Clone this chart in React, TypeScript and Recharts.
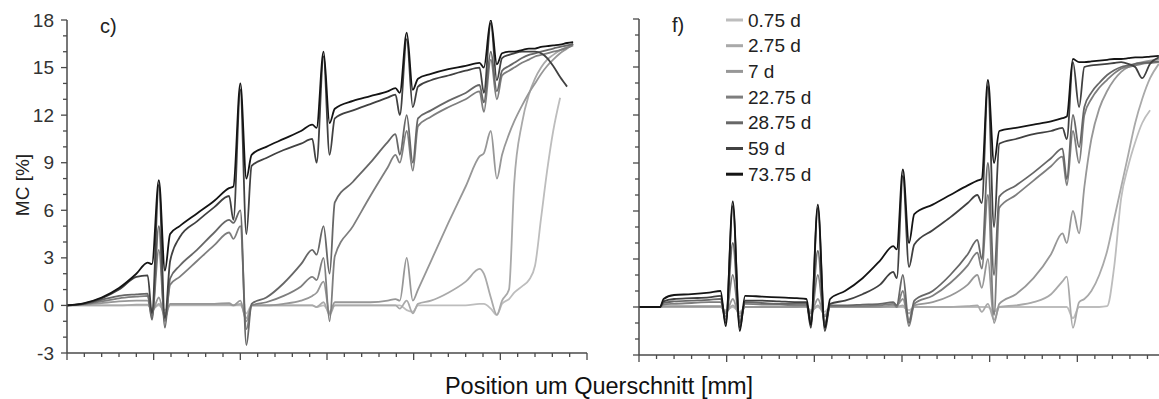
import React from "react";
import { LineChart, Line, XAxis, YAxis } from "recharts";

const seriesNames = ["0.75 d", "2.75 d", "7 d", "22.75 d", "28.75 d", "59 d", "73.75 d"];
const seriesColors = ["#bdbdbd", "#a9a9a9", "#979797", "#7e7e7e", "#676767", "#414141", "#141414"];

const xTicks = [0, 2, 4, 6, 8, 10, 12, 14, 16, 18, 20, 22, 24, 26, 28, 30, 32, 34, 36, 38, 40, 42, 44, 46, 48, 50, 52, 54, 56, 58, 60];
const yTicks = [-3, -2, -1, 0, 1, 2, 3, 4, 5, 6, 7, 8, 9, 10, 11, 12, 13, 14, 15, 16, 17, 18];

// panel c) - positions in mm
const cPos = [0, 2, 4, 6, 8, 9.3, 9.8, 10.6, 11.3, 11.9, 13, 15, 17, 18.7, 19.2, 20.0, 20.7, 21.3, 23, 25, 27, 28.3, 28.8, 29.6, 30.3, 30.9, 33, 35, 37, 37.9, 38.4, 39.2, 39.9, 40.5, 42, 44, 46, 47.6, 48.1, 48.9, 49.6, 50.2, 51, 51.6, 52.5, 53.3, 54, 54.7, 55.4, 56.1, 56.9, 57.7, 58.4];
const c075 = [0, 0, 0, 0, 0, 0, -0.2, 0, -0.3, 0, 0, 0, 0, 0, 0, 0, -0.5, 0, 0, 0, 0, 0, -0.1, 0, -0.4, 0, 0, 0, 0, 0, 0, -0.3, -0.4, 0, 0, 0, 0, 0.1, 0.1, -0.2, -0.6, 0.1, 0.4, 0.8, 1.2, 1.6, 2.5, 5.5, 8.5, 11.0, 13.1, null, null];
const c275 = [0, 0, 0, 0, 0.05, 0.05, -0.3, 0.1, -0.5, 0.05, 0.05, 0.05, 0.05, 0.05, 0, 0.1, -0.8, 0, 0, 0, 0, 0, -0.1, 0.2, -0.6, 0, 0, 0, 0, 0, -0.2, 0.3, -0.5, 0.1, 0.3, 0.8, 1.5, 2.3, 2.0, 0.5, -0.6, 0.3, 1.0, 7.7, 11.5, 13.3, 14.3, 15.0, 15.5, 15.8, 16.1, 16.3, 16.45];
const c7 = [0, 0.05, 0.15, 0.25, 0.3, 0.3, -0.4, 0.5, -0.8, 0.1, 0.1, 0.1, 0.1, 0.15, 0.0, 0.3, -1.0, 0.0, 0.0, 0.1, 0.3, 0.6, 0.8, 1.5, -0.5, 0.2, 0.2, 0.2, 0.3, 0.4, 0.3, 3.0, 0.3, 1.0, 2.8, 5.2, 7.5, 9.4, 9.6, 11.0, 8.0, 9.5, 10.8, 11.6, 12.6, 13.4, 14.0, 14.6, 15.1, 15.5, 15.9, 16.2, 16.5];
const c2275 = [0, 0.08, 0.25, 0.45, 0.55, 0.6, -0.7, 3.5, -1.0, 1.3, 1.8, 2.8, 3.8, 4.6, 4.2, 5.0, -1.5, 0.0, 0.2, 0.6, 1.2, 1.8, 1.6, 3.0, -1.0, 3.1, 5.0, 6.9, 8.7, 9.5, 9.0, 11.0, 8.5, 11.3, 11.9, 12.5, 13.0, 13.5, 12.2, 15.5, 13.0, 14.5, 14.8, 15.0, 15.3, 15.5, 15.7, 15.8, 15.9, 16.0, 16.1, 16.25, 16.4];
const c2875 = [0, 0.1, 0.35, 0.6, 0.7, 0.75, -0.9, 5.0, -1.4, 1.7, 2.5, 3.5, 4.6, 5.4, 5.2, 6.0, -2.5, 0.1, 0.5, 1.4, 2.6, 3.5, 3.2, 5.0, 2.0, 6.5, 7.8, 9.0, 10.3, 10.8, 9.5, 12.0, 9.0, 11.8, 12.3, 12.9, 13.4, 13.9, 12.8, 16.0, 13.5, 14.8, 15.1, 15.3, 15.6, 15.8, 15.9, 16.0, 16.1, 16.2, 16.3, 16.4, 16.5];
const c59 = [0, 0.12, 0.45, 1.0, 1.8, 1.9, -0.5, 7.6, -0.8, 2.8, 4.3, 5.3, 6.2, 6.9, 5.4, 13.6, 4.5, 8.8, 9.3, 9.8, 10.2, 10.5, 9.0, 15.7, 9.5, 11.8, 12.3, 12.7, 13.1, 13.3, 12.0, 16.8, 12.5, 13.8, 14.2, 14.5, 14.8, 15.0, 13.4, 17.8, 14.2, 15.6, 15.8, 15.9, 16.0, 16.0, 16.0, 15.9, 15.6, 15.1, 14.4, 13.8, null];
const c7375 = [0, 0.15, 0.5, 1.1, 2.0, 2.7, 2.6, 7.9, 2.2, 4.5, 5.0, 5.8, 6.6, 7.4, 7.5, 14.0, 8.0, 9.5, 10.0, 10.5, 11.0, 11.4, 11.2, 16.0, 11.5, 12.4, 12.9, 13.2, 13.5, 13.7, 13.4, 17.2, 13.6, 14.3, 14.6, 14.9, 15.1, 15.3, 15.0, 18.0, 15.2, 15.9, 16.0, 16.0, 16.1, 16.2, 16.2, 16.3, 16.35, 16.4, 16.45, 16.55, 16.6];

// panel f)
const fPos = [0, 2.4, 2.8, 4, 6, 8, 9.3, 9.9, 10.7, 11.5, 12.1, 14, 16, 18, 19.1, 19.6, 20.4, 21.2, 21.8, 23.5, 25.5, 27.5, 29.0, 29.4, 30.1, 30.8, 31.4, 33.5, 35.5, 37.5, 38.6, 39.1, 39.8, 40.5, 41.1, 43, 45, 47, 48.3, 48.8, 49.5, 50.2, 50.8, 51.6, 52.5, 53.4, 54.2, 55, 55.8, 56.6, 57.4, 58.3, 59.3];
const f075 = [0, 0, 0, 0, 0, 0, 0, -0.2, 0, -0.3, 0, 0, 0, 0, 0, -0.2, 0, -0.3, 0, 0, 0, 0, 0, 0, 0, -0.2, 0, 0, 0, 0, 0, 0, 0, -0.3, 0, 0, 0, 0, 0, 0, -0.7, 0, 0, 0, 0, 0.05, 2.5, 6.8, 8.8, 10.3, 11.5, 12.3, null];
const f275 = [0, 0, 0, 0, 0, 0, 0, -0.3, 0.1, -0.4, 0, 0, 0, 0, 0, -0.3, 0.1, -0.5, 0, 0, 0, 0, 0, 0, 0.1, -0.4, 0, 0, 0, 0.05, 0.1, -0.3, 0.2, -0.8, 0, 0.1, 0.3, 0.8, 1.6, 1.9, -1.3, 0.3, 0.5, 1.0, 2.0, 3.5, 5.5, 7.5, 9.5, 11.5, 13.0, 14.3, 15.2];
const f7 = [0, 0, 0.05, 0.05, 0.05, 0.05, 0.05, -0.4, 0.5, -0.6, 0, 0, 0, 0, 0.05, -0.4, 0.5, -0.6, 0, 0, 0, 0, 0.1, 0.1, 0.5, -0.8, 0.1, 0.3, 0.7, 1.4, 2.0, 1.2, 3.0, -1.0, 0.2, 0.8, 1.8, 3.3, 4.6, 4.0, 6.0, 4.6, 7.5, 10.5, 12.4, 13.5, 14.2, 14.7, 15.0, 15.2, 15.3, 15.4, 15.5];
const f2275 = [0, 0, 0.15, 0.2, 0.25, 0.3, 0.3, -0.6, 2.0, -0.9, 0.2, 0.15, 0.15, 0.1, 0.1, -0.7, 2.0, -1.0, 0.05, 0.05, 0.05, 0.1, 0.2, 0.0, 1.0, -1.2, 0.2, 0.7, 1.5, 2.6, 3.4, 2.4, 7.0, -0.5, 6.2, 7.0, 7.9, 8.8, 9.4, 7.6, 11.0, 9.0, 12.0, 13.0, 13.7, 14.2, 14.6, 14.9, 15.0, 15.1, 15.2, 15.25, 15.3];
const f2875 = [0, 0, 0.25, 0.35, 0.4, 0.45, 0.5, -0.8, 4.0, -1.0, 0.3, 0.25, 0.2, 0.2, 0.2, -0.9, 3.5, -1.2, 0.1, 0.1, 0.15, 0.2, 0.3, 0.1, 2.0, -1.0, 0.4, 1.0, 2.0, 3.3, 4.2, 3.0, 9.0, 2.0, 6.9, 7.6, 8.4, 9.3, 9.9, 8.0, 12.0, 10.0, 12.5, 13.4, 14.0, 14.5, 14.8, 15.0, 15.1, 15.2, 15.25, 15.3, 15.35];
const f59 = [0, 0, 0.35, 0.5, 0.55, 0.6, 0.7, -1.0, 6.3, -1.3, 0.4, 0.4, 0.35, 0.3, 0.3, -1.3, 6.2, -1.5, 0.2, 0.4, 0.8, 1.4, 2.2, 1.8, 8.2, 2.5, 3.9, 4.8, 5.6, 6.5, 7.0, 6.5, 13.8, 5.0, 10.2, 10.5, 10.8, 11.0, 11.2, 10.5, 15.3, 12.5, 15.0, 15.1, 15.15, 15.2, 15.25, 15.3, 15.2, 15.0, 14.3, 15.2, 15.6];
const f7375 = [0, 0, 0.5, 0.75, 0.8, 0.9, 1.0, -1.2, 6.6, -1.5, 0.7, 0.65, 0.6, 0.55, 0.5, -1.1, 6.4, -1.3, 0.5, 1.0, 1.8, 2.9, 3.8, 3.6, 8.6, 4.0, 5.8, 6.4, 7.0, 7.6, 7.9, 8.0, 14.2, 9.0, 11.0, 11.2, 11.4, 11.6, 11.8, 11.9, 15.5, 15.3, 15.3, 15.35, 15.4, 15.45, 15.5, 15.5, 15.55, 15.6, 15.6, 15.65, 15.7];

const AXIS = "#4a4a4a";
const FONT = "Arial, 'Liberation Sans', sans-serif";

function buildRows(pos: number[], series: (number | null)[][]) {
  return pos.map((p, i) => {
    const row: any = { pos: p };
    series.forEach((s, k) => {
      row["s" + k] = s[i];
    });
    return row;
  });
}

const cRows = buildRows(cPos, [c075, c275, c7, c2275, c2875, c59, c7375]);
const fRows = buildRows(fPos, [f075, f275, f7, f2275, f2875, f59, f7375]);

const XTick = (props: any) => {
  const { x, y, payload } = props;
  const major = payload.value % 10 === 0;
  return <line x1={x} x2={x} y1={y} y2={y + (major ? 7 : 4)} stroke={AXIS} strokeWidth={1.3} />;
};

const makeYTick = (showLabels: boolean) => (props: any) => {
  const { x, y, payload } = props;
  const v = payload.value;
  const major = v % 3 === 0;
  return (
    <g>
      <line x1={x - (major ? 6 : 4)} x2={x} y1={y} y2={y} stroke={AXIS} strokeWidth={1.3} />
      {showLabels && major && (
        <text x={x - 13} y={y} textAnchor="end" dominantBaseline="central" fontSize={19} fill="#333" fontFamily={FONT}>
          {v}
        </text>
      )}
    </g>
  );
};

function Panel(p: { rows: any[]; left: number; yWidth: number; mTop: number; mBottom: number; mRight: number; labels: boolean }) {
  return (
    <div style={{ position: "absolute", left: p.left, top: 0 }}>
      <LineChart width={600} height={380} data={p.rows} margin={{ top: p.mTop, right: p.mRight, bottom: p.mBottom, left: 0 }}>
        <XAxis
          dataKey="pos"
          type="number"
          domain={[0, 60]}
          ticks={xTicks}
          interval={0}
          height={20}
          tickSize={0}
          tickMargin={0}
          tickLine={false}
          axisLine={{ stroke: AXIS, strokeWidth: 1.5 }}
          tick={XTick}
          allowDataOverflow
        />
        <YAxis
          type="number"
          domain={[-3, 18]}
          ticks={yTicks}
          interval={0}
          width={p.yWidth}
          tickSize={0}
          tickMargin={0}
          tickLine={false}
          axisLine={{ stroke: AXIS, strokeWidth: 1.5 }}
          tick={makeYTick(p.labels)}
          allowDataOverflow
        />
        {seriesNames.map((n, k) => (
          <Line
            key={n}
            type="monotone"
            dataKey={"s" + k}
            name={n}
            stroke={seriesColors[k]}
            strokeWidth={1.8}
            dot={false}
            activeDot={false}
            connectNulls={false}
            isAnimationActive={false}
          />
        ))}
      </LineChart>
    </div>
  );
}

export default function App() {
  return (
    <div style={{ position: "absolute", left: 0, top: 0, width: 1159, height: 399, overflow: "hidden", background: "#fff", fontFamily: FONT }}>
      <Panel rows={cRows} left={0} yWidth={67} mTop={20} mBottom={7} mRight={13} labels={true} />
      <Panel rows={fRows} left={600} yWidth={39} mTop={19} mBottom={5} mRight={35} labels={false} />
      <svg width={1159} height={399} style={{ position: "absolute", left: 0, top: 0, pointerEvents: "none" }}>
        <text x={100} y={33} fontSize={20} fill="#222" fontFamily={FONT}>c)</text>
        <text x={672} y={32} fontSize={20} fill="#222" fontFamily={FONT}>f)</text>
        <text x={0} y={0} transform="translate(29,185) rotate(-90)" textAnchor="middle" fontSize={19} fill="#222" fontFamily={FONT}>
          MC [%]
        </text>
        <text x={599} y={394} textAnchor="middle" fontSize={23.5} fill="#111" fontFamily={FONT}>
          Position um Querschnitt [mm]
        </text>
        {seriesNames.map((n, k) => (
          <g key={n}>
            <line x1={726} x2={743} y1={20 + k * 25.7} y2={20 + k * 25.7} stroke={seriesColors[k]} strokeWidth={3} />
            <text x={748} y={20 + k * 25.7} dominantBaseline="central" fontSize={19} fill="#222" fontFamily={FONT}>
              {n}
            </text>
          </g>
        ))}
      </svg>
    </div>
  );
}
